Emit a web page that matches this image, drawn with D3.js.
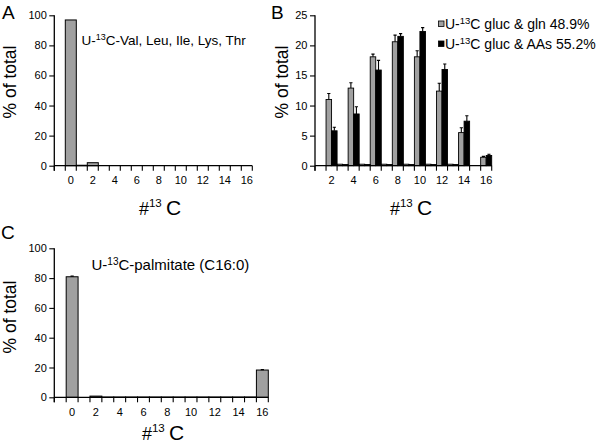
<!DOCTYPE html>
<html>
<head>
<meta charset="utf-8">
<script src="https://cdn.jsdelivr.net/npm/d3@7"></script>
<style>
  html, body { margin: 0; padding: 0; background: #fff; }
  svg { display: block; font-family: "Liberation Sans", Arial, Helvetica, sans-serif; }
</style>
</head>
<body>
<svg id="chart" width="600" height="446"></svg>
<script>
// ---------- DATA ----------
const carbonsAC = [-1, 0, 1, 2, 3, 4, 5, 6, 7, 8, 9, 10, 11, 12, 13, 14, 15, 16];
const carbonsB = [1, 2, 3, 4, 5, 6, 7, 8, 9, 10, 11, 12, 13, 14, 15, 16];
const tickLabelsX = [0, 2, 4, 6, 8, 10, 12, 14, 16];
const tickLabelsXB = [2, 4, 6, 8, 10, 12, 14, 16];
const yTicksAC = [0, 20, 40, 60, 80, 100];
const yTicksB = [0, 5, 10, 15, 20, 25];

// Panel A: U-13C-Val, Leu, Ile, Lys, Thr  (categories 0..16)
const catsA = [0, 1, 2, 3, 4, 5, 6, 7, 8, 9, 10, 11, 12, 13, 14, 15, 16];
const valuesA = [96.9, 0.3, 2.0, 0, 0, 0, 0, 0, 0, 0, 0, 0, 0, 0, 0, 0, 0];

// Panel B: two series (categories 1..16)
const seriesNamesB = ["gluc & gln", "gluc & AAs"];
const seriesPctB = ["48.9%", "55.2%"];
const glnValues = [0, 11.0, 0.25, 12.9, 0.25, 18.1, 0.25, 20.6, 0.25, 18.1, 0.25, 12.4, 0.25, 5.5, 0, 1.4];
const glnErrors = [0, 1.0, 0, 0.9, 0, 0.45, 0, 1.1, 0, 1.0, 0, 1.3, 0, 0.8, 0, 0.15];
const aaValues  = [0, 5.8, 0.2, 8.6, 0.2, 15.9, 0.2, 21.5, 0.2, 22.3, 0.2, 16.0, 0.2, 7.4, 0, 1.7];
const aaErrors  = [0, 0.6, 0, 1.2, 0, 1.6, 0, 0.45, 0, 0.65, 0, 0.9, 0, 0.9, 0, 0.2];

// Panel C: U-13C-palmitate (C16:0)
const catsC = [0, 1, 2, 3, 4, 5, 6, 7, 8, 9, 10, 11, 12, 13, 14, 15, 16];
const valuesC = [80.9, 0, 0.8, 0.2, 0.2, 0.2, 0.2, 0.2, 0.2, 0.2, 0.2, 0.2, 0.2, 0.2, 0.2, 0.2, 18.3];
const errorsC = [0.4, 0, 0, 0, 0, 0, 0, 0, 0, 0, 0, 0, 0, 0, 0, 0, 0.3];

// ---------- DRAWING ----------
const svg = d3.select("#chart");
const GRAY = "#a0a0a0";
const FONT_TICK = 11;

function drawPanel(cfg) {
  const g = svg.append("g");
  const x = d3.scaleBand().domain(cfg.domain).range(cfg.xRange).padding(0);
  const y = d3.scaleLinear().domain(cfg.yDomain).range(cfg.yRange);
  const y0 = y(0);

  cfg.bars(g, x, y);

  g.append("line")
    .attr("x1", cfg.xRange[0]).attr("x2", cfg.xRange[1])
    .attr("y1", y0).attr("y2", y0)
    .attr("stroke", "#000").attr("stroke-width", 1.3);
  const bounds = cfg.domain.map(d => x(d)).concat([x(cfg.domain[cfg.domain.length - 1]) + x.bandwidth()]);
  g.selectAll(".xt").data(bounds).enter().append("line")
    .attr("x1", d => d).attr("x2", d => d)
    .attr("y1", y0).attr("y2", y0 + 5)
    .attr("stroke", "#000").attr("stroke-width", 1.1);
  g.selectAll(".xl").data(cfg.xLabels).enter().append("text")
    .attr("x", d => x(d) + x.bandwidth() / 2)
    .attr("y", y0 + 18.5)
    .attr("text-anchor", "middle")
    .attr("font-size", FONT_TICK)
    .text(d => d);

  const yAxis = d3.axisLeft(y).tickValues(cfg.yTicks).tickSize(5).tickPadding(2.5);
  const ya = g.append("g").attr("transform", `translate(${cfg.xRange[0]},0)`).call(yAxis);
  ya.select(".domain").attr("d", `M0,${cfg.yRange[1]}V${y0 + 5}`).attr("stroke-width", 1.3);
  ya.selectAll(".tick line").attr("stroke-width", 1.1);
  ya.selectAll(".tick text").attr("font-size", FONT_TICK)
    .attr("font-family", '"Liberation Sans", Arial, sans-serif');

  g.append("text")
    .attr("transform", `translate(${cfg.yTitlePos[0]},${cfg.yTitlePos[1]}) rotate(-90)`)
    .attr("text-anchor", "middle")
    .attr("font-size", 17.5)
    .text("% of total");

  const xt = g.append("text")
    .attr("x", cfg.xTitlePos[0]).attr("y", cfg.xTitlePos[1])
    .attr("text-anchor", "middle");
  xt.append("tspan").attr("font-size", 18).text("#");
  xt.append("tspan").attr("font-size", 11.5).attr("dy", -8).text("13");
  xt.append("tspan").attr("font-size", 21).attr("dy", 8).text("\u2009C");

  svg.append("text").attr("x", cfg.letterPos[0]).attr("y", cfg.letterPos[1])
    .attr("font-size", 19).text(cfg.letter);

  return { x, y };
}

function errorBars(g, data, xc, y) {
  g.selectAll(null).data(data.filter(d => d.e > 0)).enter().append("path")
    .attr("d", d => {
      const cx = xc(d), yt = y(d.v), ye = y(d.v + d.e);
      return `M${cx},${yt}V${ye}M${cx - 1.6},${ye}H${cx + 1.6}`;
    })
    .attr("stroke", "#000").attr("stroke-width", 1.1).attr("fill", "none");
}

// Panel A
drawPanel({
  domain: carbonsAC, xRange: [54.3, 252.3], yDomain: [0, 100], yRange: [165.7, 15.3],
  xLabels: tickLabelsX, yTicks: yTicksAC,
  yTitlePos: [16, 82], xTitlePos: [160, 214.5], letter: "A", letterPos: [2, 18.5],
  bars: (g, x, y) => {
    const data = catsA.map((c, i) => ({ c, v: valuesA[i] })).filter(d => d.v > 0);
    g.selectAll(null).data(data).enter().append("rect")
      .attr("x", d => x(d.c)).attr("width", x.bandwidth())
      .attr("y", d => y(d.v)).attr("height", d => y(0) - y(d.v))
      .attr("fill", GRAY).attr("stroke", "#000").attr("stroke-width", 1);
  }
});
{
  const t = svg.append("text").attr("x", 81.5).attr("y", 45).attr("font-size", 13.5);
  t.append("tspan").text("U-");
  t.append("tspan").attr("font-size", 9).attr("dy", -5).text("13");
  t.append("tspan").attr("dy", 5).text("C-Val, Leu, Ile, Lys, Thr");
}

// Panel B
drawPanel({
  domain: carbonsB, xRange: [315, 491.7], yDomain: [0, 25], yRange: [165.7, 15.3],
  xLabels: tickLabelsXB, yTicks: yTicksB,
  yTitlePos: [288, 82], xTitlePos: [411, 214.5], letter: "B", letterPos: [271, 18.5],
  bars: (g, x, y) => {
    const half = x.bandwidth() / 2;
    const gl = carbonsB.map((c, i) => ({ c, v: glnValues[i], e: glnErrors[i] })).filter(d => d.v > 0);
    const aa = carbonsB.map((c, i) => ({ c, v: aaValues[i], e: aaErrors[i] })).filter(d => d.v > 0);
    g.selectAll(null).data(gl).enter().append("rect")
      .attr("x", d => x(d.c)).attr("width", half)
      .attr("y", d => y(d.v)).attr("height", d => y(0) - y(d.v))
      .attr("fill", GRAY).attr("stroke", "#000").attr("stroke-width", 0.9);
    g.selectAll(null).data(aa).enter().append("rect")
      .attr("x", d => x(d.c) + half).attr("width", half)
      .attr("y", d => y(d.v)).attr("height", d => y(0) - y(d.v))
      .attr("fill", "#000").attr("stroke", "#000").attr("stroke-width", 0.9);
    errorBars(g, gl, d => x(d.c) + half / 2, y);
    errorBars(g, aa, d => x(d.c) + half * 1.5, y);
  }
});
// legend B
{
  const lg = svg.append("g");
  const fills = [GRAY, "#000"];
  seriesNamesB.forEach((name, i) => {
    const yb = 28.5 + i * 20;
    lg.append("rect").attr("x", 438.5).attr("y", yb - 7.5).attr("width", 5.5).attr("height", 5.5)
      .attr("fill", fills[i]).attr("stroke", "#000").attr("stroke-width", 0.8);
    const t = lg.append("text").attr("x", 445).attr("y", yb).attr("font-size", 14);
    t.append("tspan").text("U-");
    t.append("tspan").attr("font-size", 9.5).attr("dy", -5).text("13");
    t.append("tspan").attr("dy", 5).text("C " + name + " " + seriesPctB[i]);
  });
}

// Panel C
drawPanel({
  domain: carbonsAC, xRange: [54.3, 268.3], yDomain: [0, 100], yRange: [397.3, 248.3],
  xLabels: tickLabelsX, yTicks: yTicksAC,
  yTitlePos: [16, 317], xTitlePos: [163, 439.5], letter: "C", letterPos: [1, 239],
  bars: (g, x, y) => {
    const data = catsC.map((c, i) => ({ c, v: valuesC[i], e: errorsC[i] })).filter(d => d.v > 0);
    g.selectAll(null).data(data).enter().append("rect")
      .attr("x", d => x(d.c)).attr("width", x.bandwidth())
      .attr("y", d => y(d.v)).attr("height", d => y(0) - y(d.v))
      .attr("fill", GRAY).attr("stroke", "#000").attr("stroke-width", 1);
    errorBars(g, data, d => x(d.c) + x.bandwidth() / 2, y);
  }
});
{
  const t = svg.append("text").attr("x", 91.5).attr("y", 270).attr("font-size", 15);
  t.append("tspan").text("U-");
  t.append("tspan").attr("font-size", 10).attr("dy", -5.5).text("13");
  t.append("tspan").attr("dy", 5.5).text("C-palmitate (C16:0)");
}
</script>
</body>
</html>
